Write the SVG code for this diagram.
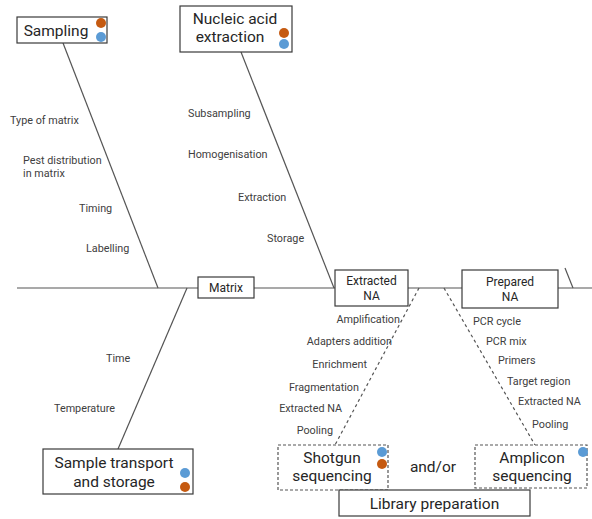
<svg xmlns="http://www.w3.org/2000/svg" width="592" height="519" viewBox="0 0 592 519">
  <style>
    .box { fill: #ffffff; stroke: #3a3a3a; stroke-width: 1.2; }
    .dbox { fill: #ffffff; stroke: #555555; stroke-width: 1.2; stroke-dasharray: 3 2; }
    .line { stroke: #555555; stroke-width: 1.2; fill: none; }
    .dash { stroke: #555555; stroke-width: 1.2; fill: none; stroke-dasharray: 3 3; }
    .big { font-family: Roboto, "Liberation Sans", sans-serif; font-size: 15.5px; fill: #262626; text-anchor: middle; }
    .mid { font-family: Roboto, "Liberation Sans", sans-serif; font-size: 12px; fill: #262626; text-anchor: middle; }
    .lab { font-family: Roboto, "Liberation Sans", sans-serif; font-size: 10.8px; fill: #404040; }
    .end { text-anchor: end; }
    .orange { fill: #C55A11; }
    .blue { fill: #5B9BD5; }
  </style>

  <!-- spine and bones -->
  <g id="connectors">
    <line class="line" x1="17" y1="288" x2="592" y2="288"/>
    <line class="line" x1="63" y1="43" x2="158" y2="288"/>
    <line class="line" x1="241" y1="52" x2="334" y2="288"/>
    <line class="line" x1="118" y1="449" x2="187" y2="288"/>
    <line class="line" x1="565" y1="268" x2="573" y2="288"/>
    <line class="dash" x1="419" y1="288" x2="335" y2="445"/>
    <line class="dash" x1="444" y1="288" x2="535" y2="445"/>
  </g>

  <g id="sampling">
    <rect class="box" x="17" y="17" width="90" height="26"/>
    <text class="big" x="56" y="35.5">Sampling</text>
    <circle class="orange" cx="101" cy="23" r="5"/>
    <circle class="blue" cx="101" cy="37" r="5"/>
  </g>

  <g id="nucleic-acid-extraction">
    <rect class="box" x="180" y="6" width="112" height="46"/>
    <text class="big" x="235" y="23.5">Nucleic acid</text>
    <text class="big" x="230" y="42">extraction</text>
    <circle class="orange" cx="284" cy="33" r="5"/>
    <circle class="blue" cx="284" cy="44" r="5"/>
  </g>

  <g id="sample-transport">
    <rect class="box" x="43" y="449" width="150" height="45"/>
    <text class="big" x="114" y="468">Sample transport</text>
    <text class="big" x="114" y="486.5">and storage</text>
    <circle class="blue" cx="185" cy="473" r="5"/>
    <circle class="orange" cx="185" cy="487" r="5"/>
  </g>

  <g id="matrix">
    <rect class="box" x="198" y="277" width="56" height="21"/>
    <text class="mid" x="226" y="292">Matrix</text>
  </g>

  <g id="extracted-na">
    <rect class="box" x="335" y="270" width="73" height="36"/>
    <text class="mid" x="371.5" y="285">Extracted</text>
    <text class="mid" x="371.5" y="299.5">NA</text>
  </g>

  <g id="prepared-na">
    <rect class="box" x="462" y="270" width="96" height="38"/>
    <text class="mid" x="510" y="286">Prepared</text>
    <text class="mid" x="510" y="300.5">NA</text>
  </g>

  <g id="shotgun">
    <rect class="dbox" x="278" y="445" width="110" height="45"/>
    <text class="big" x="332" y="462.5">Shotgun</text>
    <text class="big" x="332" y="481">sequencing</text>
    <circle class="blue" cx="382" cy="452" r="5"/>
    <circle class="orange" cx="382" cy="464" r="5"/>
  </g>

  <g id="amplicon">
    <rect class="dbox" x="475" y="445" width="112" height="43"/>
    <text class="big" x="532" y="462.5">Amplicon</text>
    <text class="big" x="532" y="481">sequencing</text>
    <circle class="blue" cx="583" cy="452" r="5"/>
  </g>

  <g id="and-or">
    <text class="big" x="433" y="472">and/or</text>
  </g>

  <g id="library-preparation">
    <rect class="box" x="339" y="490" width="191" height="26"/>
    <text class="big" x="434.5" y="508.5">Library preparation</text>
  </g>

  <!-- cause labels -->
  <g id="sampling-causes">
    <text class="lab" x="10" y="124">Type of matrix</text>
    <text class="lab" x="23" y="164">Pest distribution</text>
    <text class="lab" x="23" y="177">in matrix</text>
    <text class="lab" x="79" y="212">Timing</text>
    <text class="lab" x="86" y="252">Labelling</text>
  </g>

  <g id="extraction-causes">
    <text class="lab" x="188" y="117">Subsampling</text>
    <text class="lab" x="188" y="158">Homogenisation</text>
    <text class="lab" x="238" y="201">Extraction</text>
    <text class="lab" x="267" y="242">Storage</text>
  </g>

  <g id="transport-causes">
    <text class="lab" x="106" y="362">Time</text>
    <text class="lab" x="54" y="412">Temperature</text>
  </g>

  <g id="shotgun-causes">
    <text class="lab end" x="400" y="323">Amplification</text>
    <text class="lab end" x="392" y="345">Adapters addition</text>
    <text class="lab end" x="367" y="368">Enrichment</text>
    <text class="lab end" x="359" y="391">Fragmentation</text>
    <text class="lab end" x="342" y="412">Extracted NA</text>
    <text class="lab end" x="333" y="434">Pooling</text>
  </g>

  <g id="amplicon-causes">
    <text class="lab" x="473" y="325">PCR cycle</text>
    <text class="lab" x="486" y="345">PCR mix</text>
    <text class="lab" x="498" y="364">Primers</text>
    <text class="lab" x="507" y="385">Target region</text>
    <text class="lab" x="518" y="405">Extracted NA</text>
    <text class="lab" x="532" y="428">Pooling</text>
  </g>
</svg>
